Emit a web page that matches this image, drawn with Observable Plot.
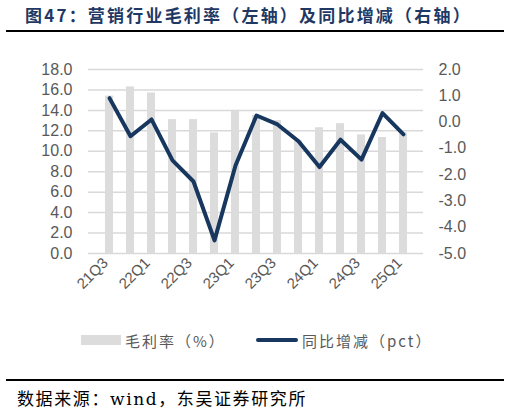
<!DOCTYPE html>
<html>
<head>
<meta charset="utf-8">
<script src="https://cdn.jsdelivr.net/npm/d3@7"></script>
<script src="https://cdn.jsdelivr.net/npm/@observablehq/plot@0.6"></script>
<style>
  body { margin: 0; background: #fff; width: 510px; height: 413px; position: relative; overflow: hidden; }
  #title {
    position: absolute; left: 6px; top: 3px; width: 498px; height: 29px;
    border-bottom: 2px solid #000;
    font-family: "Noto Sans CJK SC", sans-serif; font-weight: bold; font-size: 17px;
    color: #1f3864; letter-spacing: 2.2px; padding-left: 19px; box-sizing: border-box; line-height: 24px;
  }
  #chart { position: absolute; left: 0; top: 45px; }
  #legend {
    position: absolute; left: 0; top: 329px; width: 510px; height: 22px;
    font-family: "Noto Sans CJK SC", sans-serif; font-size: 15px; color: #595959; letter-spacing: 2px;
  }
  #legend .item { position: absolute; top: 0; display: flex; align-items: center; height: 22px; }
  #source {
    position: absolute; left: 6px; top: 379px; width: 498px; border-top: 2px solid #000;
    font-family: "DejaVu Serif", "Noto Sans CJK SC", serif; font-size: 17px; color: #000;
    letter-spacing: 1.6px; padding-left: 11px; box-sizing: border-box; line-height: 36px;
  }
</style>
</head>
<body>
<div id="title">图47：营销行业毛利率（左轴）及同比增减（右轴）</div>
<div id="chart"></div>
<div id="legend">
  <div class="item" style="left:81px"><span style="display:inline-block;width:40px;height:10px;background:#dcdcdc;margin-right:4px"></span>毛利率（%）</div>
  <div class="item" style="left:256px"><span style="display:inline-block;width:42px;height:4px;border-radius:2px;background:#17375e;margin-right:4px"></span>同比增减（pct）</div>
</div>
<div id="source">数据来源：wind，东吴证券研究所</div>
<script>
const quarters = ["21Q3", "21Q4", "22Q1", "22Q2", "22Q3", "22Q4", "23Q1", "23Q2",
  "23Q3", "23Q4", "24Q1", "24Q2", "24Q3", "24Q4", "25Q1"];
// 毛利率 (%), left axis
const grossMargin = [15.4, 16.3, 15.7, 13.1, 13.1, 11.8, 14.0, 13.5, 13.0, 11.0, 12.3, 12.7, 11.6, 11.35, 11.8];
// 同比增减 (pct), right axis
const yoyChange = [0.91, -0.54, 0.10, -1.46, -2.26, -4.5, -1.65, 0.25, -0.09, -0.73, -1.71, -0.67, -1.43, 0.34, -0.47];
const shownLabels = ["21Q3", "22Q1", "22Q3", "23Q1", "23Q3", "24Q1", "24Q3", "25Q1"];
const leftTicks = [0, 2, 4, 6, 8, 10, 12, 14, 16, 18];
const rightTicks = [-5, -4, -3, -2, -1, 0, 1, 2];

// map right axis (-5..2) onto the left scale (0..18)
const toLeft = (v) => (v + 5) * 18 / 7;
const fromLeft = (v) => v * 7 / 18 - 5;

const data = quarters.map((q, i) => ({ q, margin: grossMargin[i], chg: yoyChange[i] }));

const fontAxis = "'Liberation Sans', Arial, sans-serif";

const chart = Plot.plot({
  width: 510,
  height: 255,
  marginTop: 24,
  marginBottom: 47,
  marginLeft: 88,
  marginRight: 87,
  style: { fontFamily: fontAxis, fontSize: "16px", color: "#595959", background: "transparent" },
  x: { domain: quarters, padding: 0.64, axis: null },
  y: { domain: [0, 18], axis: null },
  marks: [
    Plot.ruleY(leftTicks, { stroke: "#d9d9d9", strokeWidth: 1.5 }),
    Plot.barY(data, { x: "q", y: "margin", fill: "#dcdcdc" }),
    Plot.line(data, { x: "q", y: (d) => toLeft(d.chg), stroke: "#17375e", strokeWidth: 4 }),
    Plot.axisY(leftTicks, { anchor: "left", tickSize: 0, tickPadding: 16, tickFormat: (d) => d.toFixed(1), label: null, fontSize: 16 }),
    Plot.axisY(rightTicks.map(toLeft), { anchor: "right", tickSize: 0, tickPadding: 15, tickFormat: (d) => fromLeft(d).toFixed(1), label: null, fontSize: 16 }),
    Plot.axisX(shownLabels, { tickSize: 0, tickPadding: 6, tickRotate: -45, dx: -4, dy: 1, label: null, fontSize: 15 })
  ]
});
document.getElementById("chart").append(chart);
</script>
</body>
</html>
